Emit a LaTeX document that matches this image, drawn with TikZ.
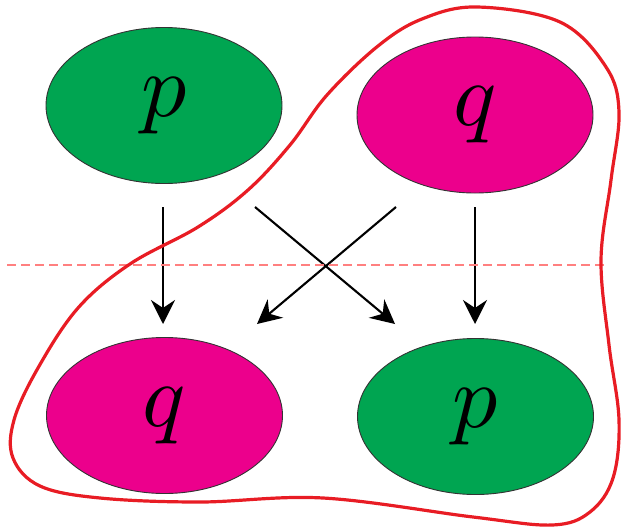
\documentclass[tikz,border=0pt]{standalone}
\usepackage{graphicx}
\usetikzlibrary{shapes.geometric,arrows.meta}
\definecolor{pgreen}{RGB}{0,165,81}
\definecolor{qmag}{RGB}{236,0,140}
\definecolor{curvered}{RGB}{232,28,36}
\newcommand{\biglet}[1]{\scalebox{9}{$#1$}}
\tikzset{
  blob/.style={ellipse, draw=black!80, line width=0.9pt, minimum width=236pt, minimum height=156pt, inner sep=0pt},
  pblob/.style={blob, fill=pgreen},
  qblob/.style={blob, fill=qmag},
  arr/.style={line width=2.1pt, -{Stealth[length=24pt,width=24pt,inset=8pt]}},
  region/.style={curvered, line width=3.2pt},
  cut/.style={red!50, line width=1.8pt, dash pattern=on 9pt off 5pt}
}
\begin{document}
\begin{tikzpicture}[x=1pt,y=-1pt]
\useasboundingbox (0,0) rectangle (623,530);
\node[pblob] (p1) at (164,105.5) {\biglet{p}};
\node[qblob] (q1) at (475,115) {\biglet{q}};
\node[qblob] (q2) at (164.5,415.5) {\biglet{q}};
\node[pblob] (p2) at (475.5,416.5) {\biglet{p}};
\coordinate (a1s) at (163,207);
\coordinate (a1e) at (163,324);
\coordinate (a2s) at (255,207);
\coordinate (a2e) at (395,324);
\coordinate (a3s) at (396,207);
\coordinate (a3e) at (257,324);
\coordinate (a4s) at (475,207);
\coordinate (a4e) at (475,324);
\draw[arr] (a1s) -- (a1e);
\draw[arr] (a2s) -- (a2e);
\draw[arr] (a3s) -- (a3e);
\draw[arr] (a4s) -- (a4e);
\coordinate (cl) at (7,265);
\coordinate (cr) at (606,265);
\draw[cut] (cl) -- (cr);
\draw[region] plot[smooth cycle, tension=0.6] coordinates {
(477,7) (560,22) (606,67) (619,112) (611,180) (601,260) (609,345)
(619,420) (613,478) (590,512) (552,525) (473,517) (323,498) (200,502)
(100,498) (40,486) (13,458) (14,420) (38,368) (78,308) (130,264)
(198,227) (248,190) (290,145) (327,95) (378,46) (422,19)};
\end{tikzpicture}
\end{document}
